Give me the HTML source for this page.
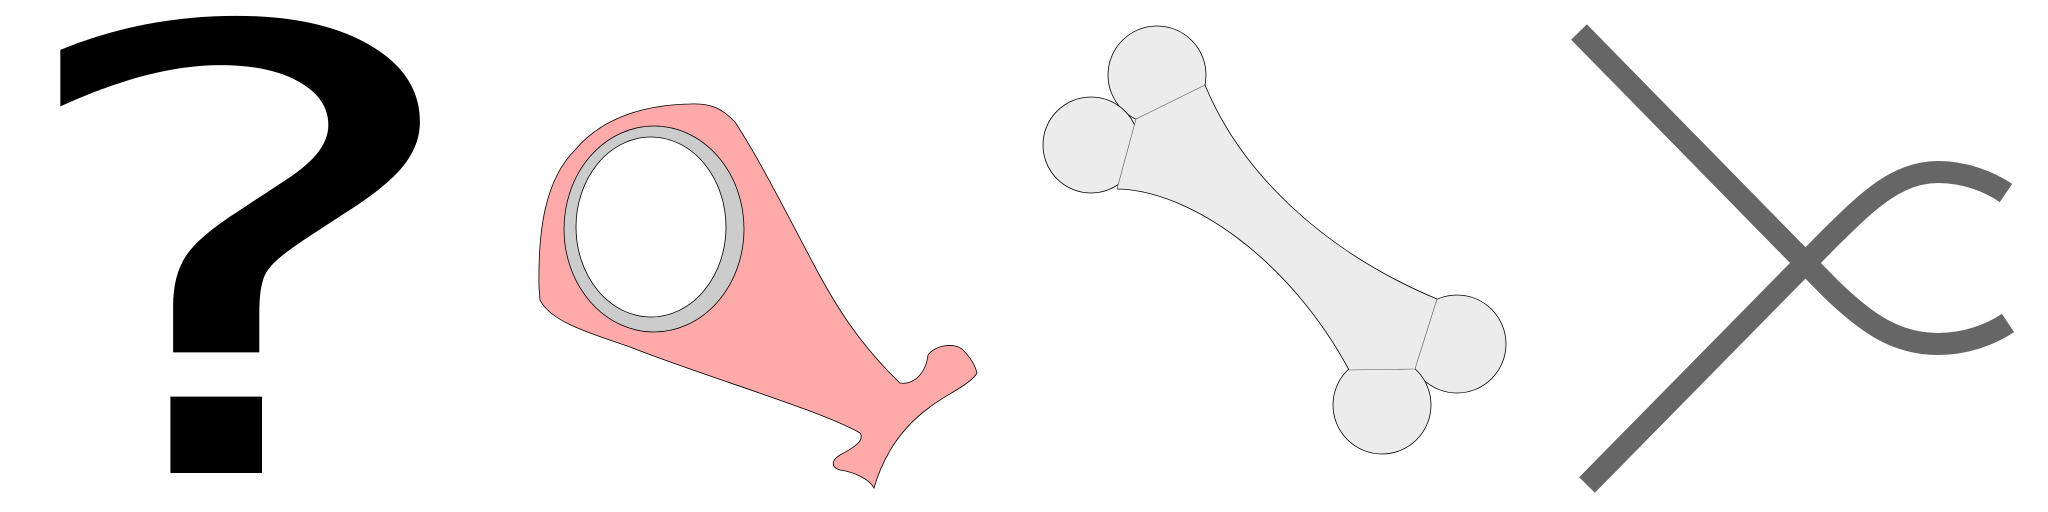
<!DOCTYPE html>
<html><head><meta charset="utf-8"><style>
html,body{margin:0;padding:0;background:#fff;width:2048px;height:512px;overflow:hidden;}
svg{display:block;}
</style></head>
<body>
<svg width="2048" height="512" viewBox="0 0 2048 512" xmlns="http://www.w3.org/2000/svg">
  <g>
    <text x="-4" y="473" transform="scale(1.5,1)" font-family="DejaVu Sans, Liberation Sans, sans-serif" font-size="616" fill="#000">?</text>
  </g>
  <g>
    <path fill="#ffaaaa" stroke="#000" stroke-width="0.8"
      d="M 539 287 C 538 230 545 180 575 150 C 600 120 640 105 690 104 C 710 103 722 108 735 122 C 760 160 790 220 813 263 C 835 305 860 345 900 383 C 915 385 926 372 928 355 C 935 345 955 342 963 350 C 970 357 975 365 977 373 C 970 385 945 395 930 407 C 905 425 885 450 874 488 C 870 480 855 472 840 470 C 830 467 832 460 840 455 C 855 447 865 440 860 433 C 820 410 700 375 630 347 C 580 330 550 320 540 300 Z"/>
    <ellipse cx="654" cy="229" rx="90" ry="103" fill="#cccccc" stroke="#000" stroke-width="0.8"/>
    <ellipse cx="651" cy="227" rx="75" ry="90" fill="#fff" stroke="#000" stroke-width="0.8"/>
  </g>
  <g stroke="#000" stroke-width="0.8" fill="#ececec">
    <circle cx="1157" cy="75" r="49"/>
    <circle cx="1091" cy="145" r="48"/>
    <circle cx="1457" cy="344" r="49"/>
    <circle cx="1382" cy="405" r="49"/>
    <path stroke="none"
      d="M 1136 119 L 1205 85 C 1240 170 1320 250 1437 299 L 1415 369 L 1349 370 C 1290 260 1190 190 1117 189 Z"/>
    <path fill="none" d="M 1205 85 C 1240 170 1320 250 1437 299"/>
    <path fill="none" d="M 1117 189 C 1190 190 1290 260 1349 370"/>
    <path fill="none" stroke="#555" stroke-width="0.6" d="M 1205 85 L 1136 119 L 1117 189 M 1437 299 L 1415 369 L 1349 370"/>
  </g>
  <g fill="none" stroke="#666666" stroke-width="22" stroke-linecap="butt">
    <path d="M 1579 32 L 1830 288 C 1865 322 1895 344 1938 344 C 1965 344 1990 335 2008 323"/>
    <path d="M 1587 485 L 1830 238 C 1865 204 1895 172 1938 172 C 1965 172 1990 182 2006 193"/>
  </g>
</svg>
</body></html>
